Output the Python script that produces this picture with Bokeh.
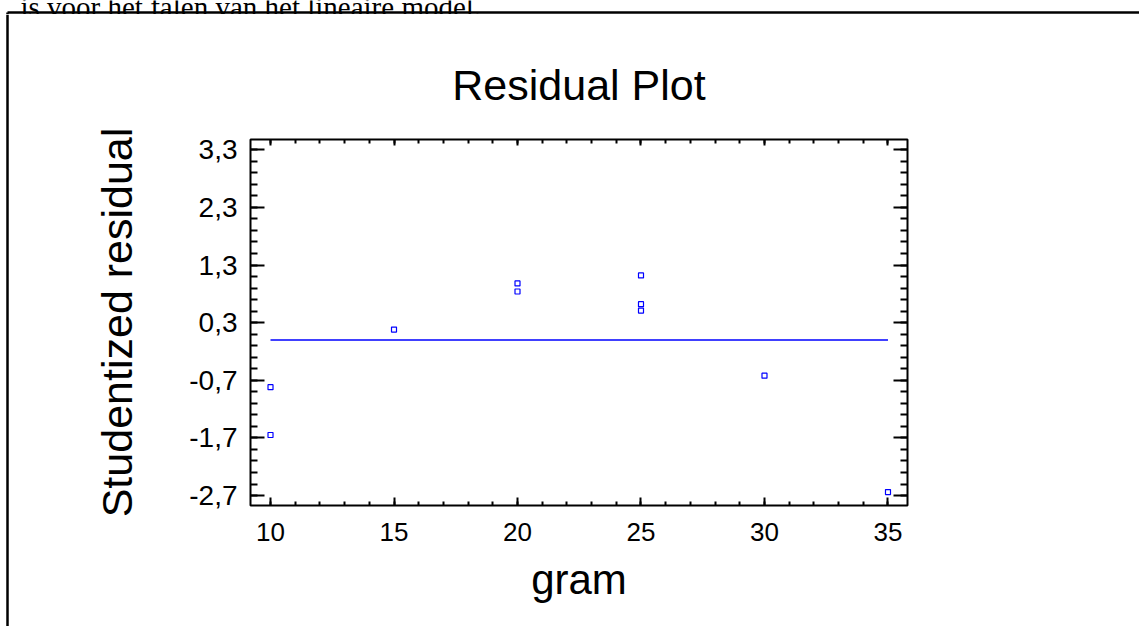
from bokeh.plotting import figure
from bokeh.layouts import column, row
from bokeh.models import (Range1d, LinearAxis, FixedTicker, CustomJSTickFormatter, Label)
from bokeh.embed import file_html
from bokeh.resources import INLINE

# ---- data ----
gram = [10, 10, 15, 20, 20, 25, 25, 25, 30, 35]
studentized_residual = [-0.82, -1.65, 0.18, 0.98, 0.84, 1.12, 0.62, 0.51, -0.62, -2.64]
zero_line_x = [10, 35]
zero_line_y = [0, 0]
x_major_ticks = [10, 15, 20, 25, 30, 35]
x_minor_ticks = list(range(10, 36))
y_major_ticks = [-2.7, -1.7, -0.7, 0.3, 1.3, 2.3, 3.3]
y_minor_ticks = [round(-2.7 + 0.2 * i, 1) for i in range(31)]
title_text = "Residual Plot"
x_label = "gram"
y_label = "Studentized residual"
page_text = "is voor het falen van het lineaire model."

SANS = "Liberation Sans"
BLUE = "#0000FF"

W, H = 1139, 626
TOP_H, LEFT_W = 14, 9          # strips that carry the surrounding page frame


def blank(width, height):
    f = figure(width=width, height=height, output_backend="svg", toolbar_location=None,
               x_range=Range1d(0, width), y_range=Range1d(height, 0),
               x_axis_location=None, y_axis_location=None, min_border=0)
    f.grid.visible = False
    f.outline_line_color = None
    f.title.visible = False
    f.border_fill_color = "white"
    f.background_fill_color = "white"
    f.frame_align = False
    return f


# --- top strip: cut-off sentence of the document and the top edge of the box
top_strip = blank(W, TOP_H)
top_strip.add_layout(Label(x=20, y=6, text=page_text, text_font="Liberation Serif",
                           text_font_size="29px", text_baseline="alphabetic",
                           text_align="left", text_color="black"))
top_strip.segment(x0=[7, 7], y0=[12, 12], x1=[W, 7], y1=[12, TOP_H],
                  line_color="black", line_width=2.5)

# --- left strip: left edge of the box
left_strip = blank(LEFT_W, H - TOP_H)
left_strip.segment(x0=[7], y0=[0], x1=[7], y1=[H - TOP_H], line_color="black", line_width=2.5)

# --- main chart
MW, MH = W - LEFT_W, H - TOP_H
p = figure(width=MW, height=MH, output_backend="svg", toolbar_location=None,
           x_range=Range1d(9.19, 35.79), y_range=Range1d(-2.873, 3.478),
           x_axis_location=None, y_axis_location=None,
           min_border_left=250 - LEFT_W, min_border_right=W - 907,
           min_border_top=139 - TOP_H, min_border_bottom=H - 505)
p.frame_align = False
p.grid.visible = False
p.background_fill_color = "white"
p.border_fill_color = "white"
p.outline_line_color = "black"
p.outline_line_width = 2

p.title.text = title_text
p.title.align = "center"
p.title.text_font = SANS
p.title.text_font_size = "43px"
p.title.text_font_style = "normal"
p.title.text_color = "black"
p.title.standoff = 62

fmt = CustomJSTickFormatter(code="return tick.toFixed(1).replace('.', ',');")
xfmt = CustomJSTickFormatter(code="return tick.toFixed(0);")
nofmt = CustomJSTickFormatter(code="return '';")


def style(ax, major_in, minor_in):
    ax.axis_line_color = None
    ax.major_tick_in = major_in
    ax.major_tick_out = 0
    ax.minor_tick_in = minor_in
    ax.minor_tick_out = 0
    ax.major_tick_line_width = 2
    ax.minor_tick_line_width = 2
    ax.major_tick_line_color = "black"
    ax.minor_tick_line_color = "black"


yt = FixedTicker(ticks=y_major_ticks, minor_ticks=y_minor_ticks)
xt = FixedTicker(ticks=x_major_ticks, minor_ticks=x_minor_ticks)

left = LinearAxis(ticker=yt, formatter=fmt, axis_label=y_label)
style(left, 14, 7)
left.major_label_text_font = SANS
left.major_label_text_font_size = "28px"
left.major_label_text_color = "black"
left.major_label_standoff = 13
left.axis_label_text_font = SANS
left.axis_label_text_font_size = "43px"
left.axis_label_text_font_style = "normal"
left.axis_label_text_color = "black"
left.axis_label_standoff = 45
p.add_layout(left, "left")

right = LinearAxis(ticker=yt, formatter=nofmt, major_label_standoff=0)
style(right, 14, 7)
p.add_layout(right, "right")

bottom = LinearAxis(ticker=xt, formatter=xfmt, axis_label=x_label)
style(bottom, 8, 4)
bottom.major_label_text_font = SANS
bottom.major_label_text_font_size = "26px"
bottom.major_label_text_color = "black"
bottom.major_label_standoff = 17
bottom.axis_label_text_font = SANS
bottom.axis_label_text_font_size = "42px"
bottom.axis_label_text_font_style = "normal"
bottom.axis_label_text_color = "black"
bottom.axis_label_standoff = 12
p.add_layout(bottom, "below")

top = LinearAxis(ticker=xt, formatter=nofmt, major_label_standoff=0)
style(top, 6, 4)
p.add_layout(top, "above")

p.line(zero_line_x, zero_line_y, line_color=BLUE, line_width=1.5)
p.scatter(gram, studentized_residual, marker="square", size=5,
          fill_color=None, line_color=BLUE, line_width=1.2)

layout = column(top_strip, row(left_strip, p, spacing=0), spacing=0)

open("out.html", "w").write(file_html(layout, INLINE))
